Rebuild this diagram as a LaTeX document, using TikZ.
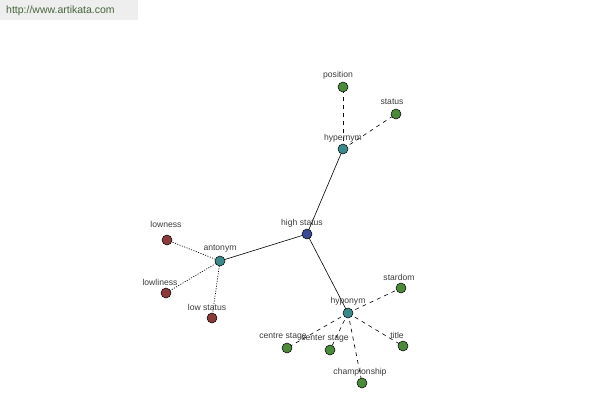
\documentclass[tikz,border=0pt]{standalone}
\usepackage{fontspec}
\setmainfont{Liberation Sans}
\definecolor{cblue}{RGB}{58,72,150}
\definecolor{cteal}{RGB}{58,138,138}
\definecolor{cred}{RGB}{138,58,58}
\definecolor{cgreen}{RGB}{74,138,58}
\definecolor{ctext}{RGB}{60,60,60}
\definecolor{wmbg}{RGB}{238,238,238}
\definecolor{wmtext}{RGB}{70,100,60}
\begin{document}
\begin{tikzpicture}[x=1pt,y=-1pt,
  dot/.style={circle,draw=black,line width=0.5pt,minimum size=10pt,inner sep=0pt},
  bluedot/.style={dot,fill=cblue},
  tealdot/.style={dot,fill=cteal},
  reddot/.style={dot,fill=cred},
  greendot/.style={dot,fill=cgreen},
  lbl/.style={font=\fontsize{8.6}{9}\selectfont,text=ctext,inner sep=0pt},
  solidedge/.style={black,line width=0.6pt},
  dashedge/.style={black,line width=0.6pt,dash pattern=on 4pt off 4pt},
  dotedge/.style={black,line width=0.7pt,dash pattern=on 1pt off 1.5pt}]
\useasboundingbox (0,0) rectangle (600,400);
\fill[white] (0,0) rectangle (600,400);
\fill[wmbg] (0,0) rectangle (138,20);
\node[lbl,font=\fontsize{10.5}{11}\selectfont,text=wmtext,anchor=west] (wm) at (6,11) {http://www.artikata.com};

\coordinate (hs) at (307,234);
\coordinate (hyper) at (343,149);
\coordinate (pos) at (343,87);
\coordinate (stat) at (396,114);
\coordinate (ant) at (220,261);
\coordinate (lown) at (167,240);
\coordinate (lowl) at (166,293);
\coordinate (lows) at (212,318);
\coordinate (hypo) at (348,313);
\coordinate (star) at (401,288);
\coordinate (title) at (403,346);
\coordinate (cs1) at (287,348);
\coordinate (cs2) at (330,350);
\coordinate (champ) at (362,383);

\draw[solidedge] (hs) -- (hyper);
\draw[solidedge] (hs) -- (ant);
\draw[solidedge] (hs) -- (hypo);
\draw[dashedge] (hyper) -- (pos);
\draw[dashedge] (hyper) -- (stat);
\draw[dotedge] (ant) -- (lown);
\draw[dotedge] (ant) -- (lowl);
\draw[dotedge] (ant) -- (lows);
\draw[dashedge] (hypo) -- (star);
\draw[dashedge] (hypo) -- (title);
\draw[dashedge] (hypo) -- (cs1);
\draw[dashedge] (hypo) -- (cs2);
\draw[dashedge] (hypo) -- (champ);

\node[bluedot] (nhs) at (hs) {};
\node[tealdot] (nhyper) at (hyper) {};
\node[greendot] (npos) at (pos) {};
\node[greendot] (nstat) at (stat) {};
\node[tealdot] (nant) at (ant) {};
\node[reddot] (nlown) at (lown) {};
\node[reddot] (nlowl) at (lowl) {};
\node[reddot] (nlows) at (lows) {};
\node[tealdot] (nhypo) at (hypo) {};
\node[greendot] (nstar) at (star) {};
\node[greendot] (ntitle) at (title) {};
\node[greendot] (ncs1) at (cs1) {};
\node[greendot] (ncs2) at (cs2) {};
\node[greendot] (nchamp) at (champ) {};

\node[lbl] (lhs) at (302,223) {high status};
\node[lbl] (lhyper) at (343,138) {hypernym};
\node[lbl] (lpos) at (338,75) {position};
\node[lbl] (lstat) at (392,102) {status};
\node[lbl] (lant) at (220,249) {antonym};
\node[lbl] (llown) at (166,224) {lowness};
\node[lbl] (llowl) at (160,282) {lowliness};
\node[lbl] (llows) at (207,307) {low status};
\node[lbl] (lhypo) at (348,301) {hyponym};
\node[lbl] (lstar) at (399,277) {stardom};
\node[lbl] (ltitle) at (397,335) {title};
\node[lbl] (lcs1) at (283,337) {centre stage};
\node[lbl] (lcs2) at (325,339) {center stage};
\node[lbl] (lchamp) at (360,372) {championship};
\end{tikzpicture}
\end{document}
